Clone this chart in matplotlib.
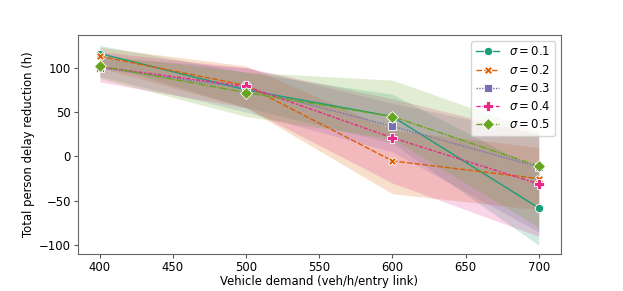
import matplotlib.pyplot as plt
import numpy as np

demand = [400, 500, 600, 700]
sigmas = ['0.1', '0.2', '0.3', '0.4', '0.5']

mean_01 = [116, 75, 45, -58]
mean_02 = [113, 80, -5, -25]
mean_03 = [100, 77, 34, -12]
mean_04 = [101, 79, 21, -31]
mean_05 = [102, 72, 45, -11]

lo_01 = [105, 55, 15, -100]
hi_01 = [125, 95, 70, -15]
lo_02 = [100, 55, -42, -60]
hi_02 = [123, 102, 30, 10]
lo_03 = [90, 50, 5, -85]
hi_03 = [112, 100, 60, 25]
lo_04 = [84, 55, -30, -90]
hi_04 = [118, 100, 65, 25]
lo_05 = [88, 45, 20, -80]
hi_05 = [115, 95, 86, 28]

means = [mean_01, mean_02, mean_03, mean_04, mean_05]
lows = [lo_01, lo_02, lo_03, lo_04, lo_05]
highs = [hi_01, hi_02, hi_03, hi_04, hi_05]

colors = ['#1b9e77', '#d95f02', '#7570b3', '#e7298a', '#66a61e']
markers = ['o', 'X', 's', 'P', 'D']
msizes = [6, 6, 6, 6.5, 6.5]
dashes = [(None, None), (4, 1.5), (1, 1), (3, 1.25, 1.5, 1.25), (5, 1, 1, 1)]

plt.rcParams['font.family'] = 'DejaVu Sans'
fig = plt.figure(figsize=(6.23, 2.91), dpi=100)
ax = fig.add_axes([0.125, 0.127, 0.775, 0.753])

for i in range(5):
    ax.fill_between(demand, lows[i], highs[i], color=colors[i], alpha=0.2, linewidth=0)
for i in range(5):
    line, = ax.plot(demand, means[i], color=colors[i], marker=markers[i], markersize=msizes[i],
                    markeredgecolor='white', markeredgewidth=0.6, linewidth=1.0,
                    label=r'$\sigma = $' + sigmas[i])
    if i > 0:
        line.set_dashes(dashes[i])

ax.set_xlim(385, 715)
ax.set_ylim(-110, 137)
ax.set_xticks([400, 450, 500, 550, 600, 650, 700])
ax.set_yticks([-100, -50, 0, 50, 100])
ax.tick_params(labelsize=8.4, length=3, color='#555555', pad=2)
for s in ax.spines.values():
    s.set_color('#666666')
ax.set_xlabel('Vehicle demand (veh/h/entry link)', fontsize=8.4, labelpad=1)
ax.set_ylabel('Total person delay reduction (h)', fontsize=8.4, labelpad=3)
ax.legend(loc='upper right', fontsize=8.4, handlelength=2.0, borderpad=0.4,
          labelspacing=0.45, borderaxespad=0.5)

fig.savefig('out.png', dpi=100)
